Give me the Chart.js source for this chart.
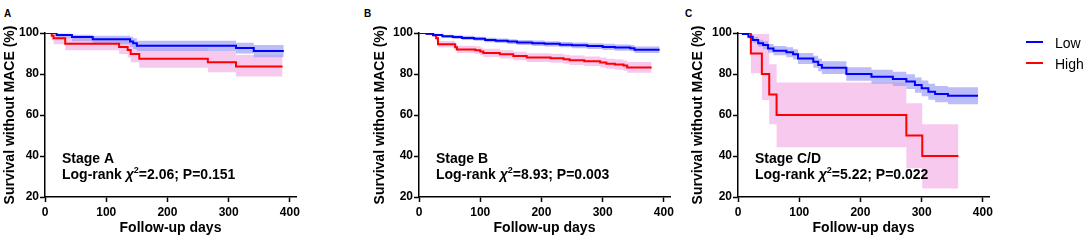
<!DOCTYPE html>
<html lang="en">
<head>
<meta charset="UTF-8">
<title>Survival without MACE by stage</title>
<script src="https://cdn.jsdelivr.net/npm/chart.js"></script>
<style>
  body { margin: 0; background: #fff; width: 1084px; height: 241px; position: relative; overflow: hidden;
         font-family: "Liberation Sans", Arial, sans-serif; color: #000; }
  canvas { position: absolute; top: 0; }
  .tag { position: absolute; top: 9px; font-size: 10px; line-height: 10px; font-weight: bold; }
  .key { position: absolute; left: 1026px; width: 58px; height: 16px; font-size: 14px; line-height: 16px; }
  .key i { position: absolute; left: 0; top: 6px; width: 17px; height: 2px; }
  .key span { position: absolute; left: 29px; top: 0; white-space: nowrap; }
</style>
</head>
<body>
<div class="tag" style="left:4px">A</div>
<div class="tag" style="left:364px">B</div>
<div class="tag" style="left:685px">C</div>

<canvas id="chartA" width="360" height="241" style="left:0px"></canvas>
<canvas id="chartB" width="340" height="241" style="left:360px"></canvas>
<canvas id="chartC" width="394" height="241" style="left:690px"></canvas>

<div class="key" style="top:35px"><i style="background:#0000ff"></i><span>Low</span></div>
<div class="key" style="top:56px"><i style="background:#ff0000"></i><span>High</span></div>

<script>
// ---- Stage A ----
const aLowDays  = [0, 19, 44, 78, 139, 144, 150, 312, 341, 390];
const aLowSurv  = [100, 99.0, 98.0, 96.9, 95.9, 95.0, 93.8, 92.7, 91.2, 91.2];
const aLowUpper = [100, 99.6, 99.2, 98.7, 98.2, 97.5, 96.2, 95.3, 94.1, 94.1];
const aLowLower = [100, 97.5, 96.0, 94.5, 93.2, 92.2, 91.2, 90.0, 88.2, 88.2];

const aHighDays  = [0, 11, 14, 33, 121, 135, 140, 154, 266, 312, 388];
const aHighSurv  = [100, 98.7, 97.4, 94.8, 93.2, 91.7, 89.8, 87.5, 85.7, 83.7, 83.7];
const aHighUpper = [100, 100, 99.6, 97.6, 96.6, 95.6, 94.3, 92.6, 91.2, 89.3, 89.3];
const aHighLower = [100, 96.5, 94.5, 91.6, 89.7, 88.0, 85.7, 83.0, 80.8, 78.8, 78.8];

// ---- Stage B ----
const bLowDays  = [0, 12, 23, 38, 55, 70, 90, 108, 125, 145, 160, 185, 205, 230, 250, 275, 300, 320, 345, 352, 393];
const bLowSurv  = [100, 99.6, 99.0, 98.4, 98.0, 97.6, 97.2, 96.6, 96.2, 95.8, 95.4, 95.0, 94.7, 94.3, 94.0, 93.6, 93.2, 92.9, 92.6, 91.8, 91.8];
const bLowUpper = [100, 100, 99.6, 99.2, 98.9, 98.6, 98.2, 97.7, 97.3, 97.0, 96.6, 96.3, 96.0, 95.6, 95.4, 95.0, 94.7, 94.4, 94.1, 93.4, 93.4];
const bLowLower = [100, 99.2, 98.4, 97.6, 97.1, 96.6, 96.2, 95.5, 95.1, 94.6, 94.2, 93.7, 93.4, 93.0, 92.6, 92.2, 91.7, 91.4, 91.1, 90.2, 90.2];

const bHighDays  = [0, 15, 23, 28, 31, 59, 62, 92, 100, 105, 132, 154, 176, 215, 236, 246, 270, 296, 306, 320, 334, 340, 380];
const bHighSurv  = [100, 99.6, 98.9, 97.4, 94.5, 93.0, 92.0, 91.6, 91.0, 90.3, 89.6, 88.8, 88.0, 87.7, 87.2, 86.7, 86.2, 85.6, 85.0, 84.6, 84.1, 83.2, 83.2];
const bHighUpper = [100, 100, 99.7, 98.6, 96.1, 94.7, 93.8, 93.5, 92.9, 92.3, 91.6, 90.9, 90.1, 89.9, 89.4, 89.0, 88.5, 88.0, 87.4, 87.1, 86.6, 85.8, 85.8];
const bHighLower = [100, 99.2, 98.1, 96.2, 92.9, 91.3, 90.2, 89.7, 89.1, 88.3, 87.6, 86.7, 85.9, 85.5, 85.0, 84.4, 83.9, 83.2, 82.6, 82.1, 81.6, 80.6, 80.6];

// ---- Stage C/D ----
const cLowDays  = [0, 8, 17, 24, 33, 41, 49, 58, 79, 90, 98, 123, 131, 137, 177, 218, 253, 275, 289, 300, 311, 322, 343, 392];
const cLowSurv  = [100, 99.5, 98.2, 96.6, 95.0, 94.1, 92.5, 91.4, 90.6, 89.6, 87.6, 86.0, 84.4, 83.1, 80.0, 78.7, 77.6, 76.3, 74.6, 73.0, 71.4, 70.2, 69.4, 69.4];
const cLowUpper = [100, 100, 99.2, 98.0, 96.7, 96.0, 94.6, 93.7, 93.0, 92.1, 90.3, 88.9, 87.4, 86.2, 83.3, 82.1, 81.1, 79.9, 78.3, 76.8, 75.3, 74.2, 73.5, 73.5];
const cLowLower = [100, 99.0, 97.2, 95.2, 93.3, 92.2, 90.4, 89.1, 88.2, 87.1, 84.9, 83.1, 81.4, 80.0, 76.7, 75.3, 74.1, 72.7, 70.9, 69.2, 67.5, 66.2, 65.3, 65.3];

const cHighDays  = [0, 21, 39, 51, 63, 275, 301, 360];
const cHighSurv  = [100, 90, 80, 70, 60, 50, 40, 40];
const cHighUpper = [100, 99.5, 99.5, 84.7, 75.8, 65.7, 55.5, 55.5];
const cHighLower = [100, 80.4, 67.3, 55.5, 44.3, 34.0, 24.2, 24.2];

// axis ticks
const xTicks = [0, 100, 200, 300, 400];
const yTicks = [20, 40, 60, 80, 100];

Chart.defaults.font.family = '"Liberation Sans", Arial, sans-serif';
Chart.defaults.color = '#000';

const pts = (days, vals) => days.map((d, i) => ({ x: d, y: vals[i] }));

function kmSets(low, high) {
  // 'before': hold the previous value, drop at the event day
  const base = { stepped: 'before', pointRadius: 0, pointHoverRadius: 0 };
  return [
    { ...base, data: pts(low.days, low.surv), borderColor: '#0000ff', borderWidth: 2, fill: false },
    { ...base, data: pts(high.days, high.surv), borderColor: '#ff0000', borderWidth: 2, fill: false },
    { ...base, data: pts(low.days, low.upper), borderColor: 'rgba(0,0,0,0)', borderWidth: 0,
      backgroundColor: 'rgba(160,160,245,0.7)', fill: '+1' },
    { ...base, data: pts(low.days, low.lower), borderColor: 'rgba(0,0,0,0)', borderWidth: 0, fill: false },
    { ...base, data: pts(high.days, high.upper), borderColor: 'rgba(0,0,0,0)', borderWidth: 0,
      backgroundColor: '#f8c9ee', fill: '+1' },
    { ...base, data: pts(high.days, high.lower), borderColor: 'rgba(0,0,0,0)', borderWidth: 0, fill: false }
  ];
}

// stage name + log-rank text inside the plot
const statsText = {
  id: 'statsText',
  afterDraw(chart, args, opts) {
    const { ctx, chartArea } = chart;
    const x0 = chart.scales.x.getPixelForValue(0) + 17;
    const y1 = chartArea.top + 130, y2 = chartArea.top + 146;
    ctx.save();
    ctx.fillStyle = '#000';
    ctx.textBaseline = 'alphabetic';
    ctx.font = 'bold 14px "Liberation Sans", Arial, sans-serif';
    ctx.fillText(opts.stage, x0, y1);
    let x = x0;
    ctx.fillText('Log-rank ', x, y2);
    x += ctx.measureText('Log-rank ').width;
    ctx.font = 'italic bold 14px "Liberation Sans", Arial, sans-serif';
    ctx.fillText('\u03c7', x, y2);
    x += ctx.measureText('\u03c7').width;
    ctx.font = 'bold 9px "Liberation Sans", Arial, sans-serif';
    ctx.fillText('2', x, y2 - 6.5);
    x += ctx.measureText('2').width;
    ctx.font = 'bold 14px "Liberation Sans", Arial, sans-serif';
    ctx.fillText('=' + opts.chi + '; P=' + opts.p, x, y2);
    ctx.restore();
  }
};

function makePanel(id, low, high, cfg) {
  new Chart(document.getElementById(id), {
    type: 'line',
    data: { datasets: kmSets(low, high) },
    plugins: [statsText],
    options: {
      responsive: false,
      animation: false,
      devicePixelRatio: 1,
      layout: { padding: { top: 33, right: cfg.padRight, left: 0, bottom: 0 } },
      plugins: {
        legend: { display: false },
        tooltip: { enabled: false },
        statsText: { stage: cfg.stage, chi: cfg.chi, p: cfg.p }
      },
      scales: {
        x: {
          type: 'linear', min: 0, max: 410,
          afterFit: s => { s.height = 44; },
          afterBuildTicks: s => { s.ticks = xTicks.map(v => ({ value: v })); },
          ticks: { font: { size: 12, weight: 'bold' }, padding: 3, maxRotation: 0, includeBounds: false },
          grid: { drawOnChartArea: false, drawTicks: true, tickLength: 5, tickColor: '#000', tickWidth: 1.5 },
          border: { color: '#000', width: 1.5 },
          title: { display: true, text: 'Follow-up days', font: { size: 14, weight: 'bold' },
                   padding: { top: 0, bottom: 4 } }
        },
        y: {
          type: 'linear', min: 20, max: 100,
          afterFit: s => { s.width = cfg.yWidth; },
          afterBuildTicks: s => { s.ticks = yTicks.map(v => ({ value: v })); },
          ticks: { font: { size: 12, weight: 'bold' }, padding: 1 },
          grid: { drawOnChartArea: false, drawTicks: true, tickLength: 5, tickColor: '#000', tickWidth: 1.5 },
          border: { color: '#000', width: 1.5 },
          title: { display: true, text: 'Survival without MACE (%)', font: { size: 14, weight: 'bold' },
                   padding: { top: cfg.titlePad, bottom: 0 } }
        }
      }
    }
  });
}

makePanel('chartA',
  { days: aLowDays, surv: aLowSurv, upper: aLowUpper, lower: aLowLower },
  { days: aHighDays, surv: aHighSurv, upper: aHighUpper, lower: aHighLower },
  { yWidth: 45, titlePad: 1.6, padRight: 64, stage: 'Stage A', chi: '2.06', p: '0.151' });

makePanel('chartB',
  { days: bLowDays, surv: bLowSurv, upper: bLowUpper, lower: bLowLower },
  { days: bHighDays, surv: bHighSurv, upper: bHighUpper, lower: bHighLower },
  { yWidth: 59, titlePad: 11.6, padRight: 30, stage: 'Stage B', chi: '8.93', p: '0.003' });

makePanel('chartC',
  { days: cLowDays, surv: cLowSurv, upper: cLowUpper, lower: cLowLower },
  { days: cHighDays, surv: cHighSurv, upper: cHighUpper, lower: cHighLower },
  { yWidth: 48, titlePad: 0, padRight: 95, stage: 'Stage C/D', chi: '5.22', p: '0.022' });
</script>
</body>
</html>
